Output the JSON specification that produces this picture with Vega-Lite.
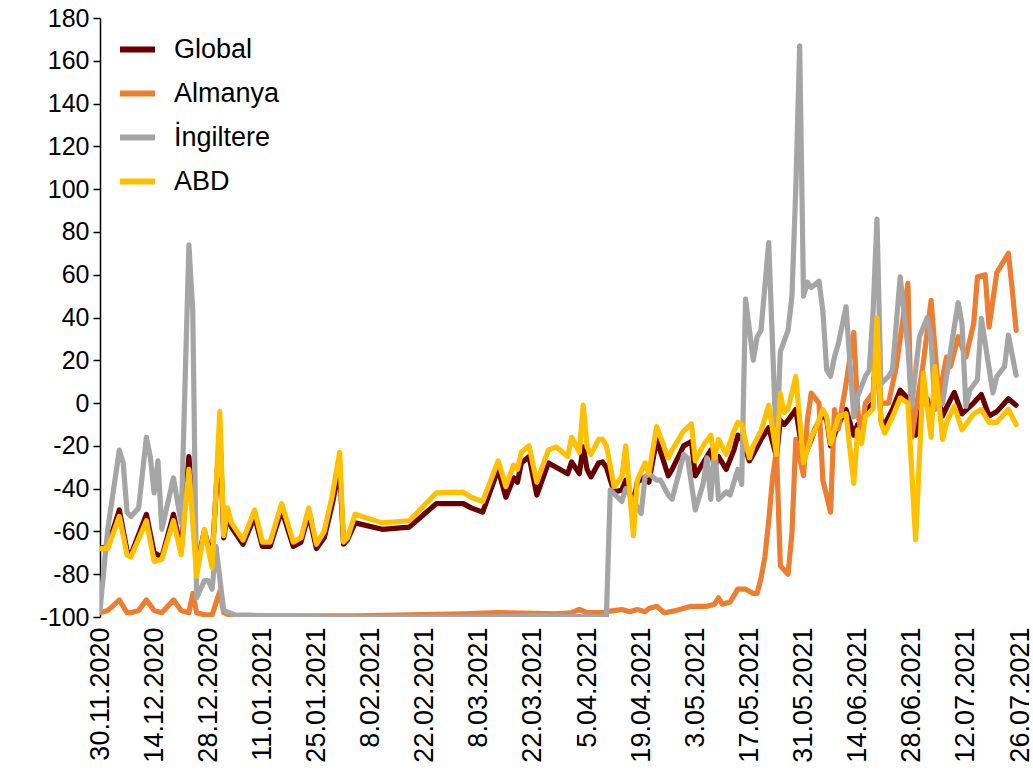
{
"$schema": "https://vega.github.io/schema/vega-lite/v6.json",
"width": 920, "height": 599,
"autosize": {"type": "none"},
"padding": {"left": 100, "top": 18, "right": 13, "bottom": 162},
"background": "white",
"config": {"view": {"stroke": null}, "font": "Liberation Sans"},
"datasets": {
"series": [
{"s":"Global","d":"2020-11-30","v":-68},{"s":"Global","d":"2020-12-02","v":-67},{"s":"Global","d":"2020-12-05","v":-50},{"s":"Global","d":"2020-12-07","v":-69},{"s":"Global","d":"2020-12-08","v":-71},{"s":"Global","d":"2020-12-12","v":-52},{"s":"Global","d":"2020-12-14","v":-70},{"s":"Global","d":"2020-12-16","v":-72},{"s":"Global","d":"2020-12-19","v":-52},{"s":"Global","d":"2020-12-21","v":-69},{"s":"Global","d":"2020-12-23","v":-25},{"s":"Global","d":"2020-12-25","v":-76},{"s":"Global","d":"2020-12-27","v":-60},{"s":"Global","d":"2020-12-29","v":-73},{"s":"Global","d":"2020-12-31","v":-12},{"s":"Global","d":"2021-01-01","v":-63},{"s":"Global","d":"2021-01-02","v":-52},{"s":"Global","d":"2021-01-03","v":-58},{"s":"Global","d":"2021-01-06","v":-66},{"s":"Global","d":"2021-01-09","v":-53},{"s":"Global","d":"2021-01-11","v":-67},{"s":"Global","d":"2021-01-13","v":-67},{"s":"Global","d":"2021-01-16","v":-50},{"s":"Global","d":"2021-01-19","v":-67},{"s":"Global","d":"2021-01-21","v":-65},{"s":"Global","d":"2021-01-23","v":-52},{"s":"Global","d":"2021-01-25","v":-68},{"s":"Global","d":"2021-01-27","v":-63},{"s":"Global","d":"2021-01-29","v":-48},{"s":"Global","d":"2021-01-31","v":-30},{"s":"Global","d":"2021-02-01","v":-66},{"s":"Global","d":"2021-02-02","v":-64},{"s":"Global","d":"2021-02-04","v":-56},{"s":"Global","d":"2021-02-11","v":-59},{"s":"Global","d":"2021-02-18","v":-58},{"s":"Global","d":"2021-02-25","v":-47},{"s":"Global","d":"2021-03-04","v":-47},{"s":"Global","d":"2021-03-06","v":-49},{"s":"Global","d":"2021-03-09","v":-51},{"s":"Global","d":"2021-03-13","v":-31},{"s":"Global","d":"2021-03-15","v":-44},{"s":"Global","d":"2021-03-17","v":-35},{"s":"Global","d":"2021-03-18","v":-37},{"s":"Global","d":"2021-03-19","v":-28},{"s":"Global","d":"2021-03-21","v":-25},{"s":"Global","d":"2021-03-23","v":-43},{"s":"Global","d":"2021-03-26","v":-28},{"s":"Global","d":"2021-03-28","v":-30},{"s":"Global","d":"2021-03-31","v":-33},{"s":"Global","d":"2021-04-01","v":-27.5},{"s":"Global","d":"2021-04-03","v":-33},{"s":"Global","d":"2021-04-04","v":-20.5},{"s":"Global","d":"2021-04-05","v":-31},{"s":"Global","d":"2021-04-06","v":-34.5},{"s":"Global","d":"2021-04-08","v":-28},{"s":"Global","d":"2021-04-09","v":-27.5},{"s":"Global","d":"2021-04-10","v":-30},{"s":"Global","d":"2021-04-12","v":-41.6},{"s":"Global","d":"2021-04-14","v":-40.6},{"s":"Global","d":"2021-04-15","v":-36},{"s":"Global","d":"2021-04-17","v":-47},{"s":"Global","d":"2021-04-18","v":-37},{"s":"Global","d":"2021-04-20","v":-34.5},{"s":"Global","d":"2021-04-21","v":-37},{"s":"Global","d":"2021-04-23","v":-17},{"s":"Global","d":"2021-04-26","v":-34},{"s":"Global","d":"2021-04-27","v":-31},{"s":"Global","d":"2021-04-30","v":-20},{"s":"Global","d":"2021-05-02","v":-18},{"s":"Global","d":"2021-05-03","v":-34},{"s":"Global","d":"2021-05-05","v":-28},{"s":"Global","d":"2021-05-07","v":-22},{"s":"Global","d":"2021-05-08","v":-30},{"s":"Global","d":"2021-05-09","v":-25},{"s":"Global","d":"2021-05-11","v":-31},{"s":"Global","d":"2021-05-13","v":-22},{"s":"Global","d":"2021-05-14","v":-15},{"s":"Global","d":"2021-05-15","v":-17},{"s":"Global","d":"2021-05-17","v":-27},{"s":"Global","d":"2021-05-18","v":-24},{"s":"Global","d":"2021-05-20","v":-17},{"s":"Global","d":"2021-05-22","v":-11.5},{"s":"Global","d":"2021-05-24","v":-25},{"s":"Global","d":"2021-05-25","v":-8},{"s":"Global","d":"2021-05-26","v":-10},{"s":"Global","d":"2021-05-27","v":-8},{"s":"Global","d":"2021-05-29","v":-3},{"s":"Global","d":"2021-05-31","v":-26},{"s":"Global","d":"2021-06-02","v":-17},{"s":"Global","d":"2021-06-03","v":-12},{"s":"Global","d":"2021-06-05","v":-5},{"s":"Global","d":"2021-06-06","v":-8},{"s":"Global","d":"2021-06-07","v":-20},{"s":"Global","d":"2021-06-09","v":-10},{"s":"Global","d":"2021-06-11","v":-3},{"s":"Global","d":"2021-06-13","v":-15},{"s":"Global","d":"2021-06-14","v":-10},{"s":"Global","d":"2021-06-15","v":-12},{"s":"Global","d":"2021-06-16","v":-4},{"s":"Global","d":"2021-06-18","v":0},{"s":"Global","d":"2021-06-19","v":37},{"s":"Global","d":"2021-06-20","v":-8},{"s":"Global","d":"2021-06-21","v":-10},{"s":"Global","d":"2021-06-23","v":-3},{"s":"Global","d":"2021-06-25","v":6},{"s":"Global","d":"2021-06-27","v":2},{"s":"Global","d":"2021-06-29","v":-15},{"s":"Global","d":"2021-07-01","v":3},{"s":"Global","d":"2021-07-02","v":2},{"s":"Global","d":"2021-07-03","v":-8},{"s":"Global","d":"2021-07-04","v":8},{"s":"Global","d":"2021-07-06","v":-6},{"s":"Global","d":"2021-07-07","v":-2},{"s":"Global","d":"2021-07-09","v":5},{"s":"Global","d":"2021-07-11","v":-5},{"s":"Global","d":"2021-07-14","v":0},{"s":"Global","d":"2021-07-16","v":4},{"s":"Global","d":"2021-07-18","v":-6},{"s":"Global","d":"2021-07-20","v":-4},{"s":"Global","d":"2021-07-22","v":0},{"s":"Global","d":"2021-07-23","v":2},{"s":"Global","d":"2021-07-25","v":-1},

{"s":"Almanya","d":"2020-11-30","v":-98},{"s":"Almanya","d":"2020-12-02","v":-97},{"s":"Almanya","d":"2020-12-05","v":-92},{"s":"Almanya","d":"2020-12-07","v":-98},{"s":"Almanya","d":"2020-12-08","v":-98},{"s":"Almanya","d":"2020-12-10","v":-97},{"s":"Almanya","d":"2020-12-12","v":-92},{"s":"Almanya","d":"2020-12-14","v":-97},{"s":"Almanya","d":"2020-12-16","v":-98},{"s":"Almanya","d":"2020-12-19","v":-92},{"s":"Almanya","d":"2020-12-21","v":-97},{"s":"Almanya","d":"2020-12-23","v":-98},{"s":"Almanya","d":"2020-12-24","v":-89},{"s":"Almanya","d":"2020-12-25","v":-98},{"s":"Almanya","d":"2020-12-27","v":-99},{"s":"Almanya","d":"2020-12-29","v":-99},{"s":"Almanya","d":"2020-12-31","v":-88},{"s":"Almanya","d":"2021-01-01","v":-98},{"s":"Almanya","d":"2021-01-03","v":-99.5},{"s":"Almanya","d":"2021-01-19","v":-99.5},{"s":"Almanya","d":"2021-02-04","v":-99.5},{"s":"Almanya","d":"2021-02-18","v":-99},{"s":"Almanya","d":"2021-03-04","v":-98.5},{"s":"Almanya","d":"2021-03-13","v":-98},{"s":"Almanya","d":"2021-03-23","v":-98.3},{"s":"Almanya","d":"2021-03-28","v":-98.5},{"s":"Almanya","d":"2021-04-01","v":-98},{"s":"Almanya","d":"2021-04-03","v":-96.5},{"s":"Almanya","d":"2021-04-05","v":-98},{"s":"Almanya","d":"2021-04-09","v":-98},{"s":"Almanya","d":"2021-04-10","v":-97.5},{"s":"Almanya","d":"2021-04-12","v":-97},{"s":"Almanya","d":"2021-04-14","v":-96.5},{"s":"Almanya","d":"2021-04-16","v":-97.5},{"s":"Almanya","d":"2021-04-18","v":-96.5},{"s":"Almanya","d":"2021-04-20","v":-97.5},{"s":"Almanya","d":"2021-04-21","v":-96},{"s":"Almanya","d":"2021-04-23","v":-95},{"s":"Almanya","d":"2021-04-25","v":-98},{"s":"Almanya","d":"2021-04-28","v":-97},{"s":"Almanya","d":"2021-05-02","v":-95},{"s":"Almanya","d":"2021-05-06","v":-95},{"s":"Almanya","d":"2021-05-08","v":-94},{"s":"Almanya","d":"2021-05-09","v":-91},{"s":"Almanya","d":"2021-05-10","v":-94},{"s":"Almanya","d":"2021-05-12","v":-93},{"s":"Almanya","d":"2021-05-14","v":-87},{"s":"Almanya","d":"2021-05-16","v":-87},{"s":"Almanya","d":"2021-05-18","v":-89},{"s":"Almanya","d":"2021-05-19","v":-89},{"s":"Almanya","d":"2021-05-20","v":-82},{"s":"Almanya","d":"2021-05-21","v":-72},{"s":"Almanya","d":"2021-05-22","v":-55},{"s":"Almanya","d":"2021-05-23","v":-35},{"s":"Almanya","d":"2021-05-24","v":-22},{"s":"Almanya","d":"2021-05-25","v":-76},{"s":"Almanya","d":"2021-05-26","v":-78},{"s":"Almanya","d":"2021-05-27","v":-80},{"s":"Almanya","d":"2021-05-28","v":-61},{"s":"Almanya","d":"2021-05-29","v":-17},{"s":"Almanya","d":"2021-05-31","v":-34},{"s":"Almanya","d":"2021-06-01","v":-8},{"s":"Almanya","d":"2021-06-02","v":4.7},{"s":"Almanya","d":"2021-06-04","v":0},{"s":"Almanya","d":"2021-06-05","v":-36},{"s":"Almanya","d":"2021-06-07","v":-51},{"s":"Almanya","d":"2021-06-08","v":-3},{"s":"Almanya","d":"2021-06-09","v":-12},{"s":"Almanya","d":"2021-06-11","v":9},{"s":"Almanya","d":"2021-06-13","v":33},{"s":"Almanya","d":"2021-06-14","v":-3},{"s":"Almanya","d":"2021-06-15","v":-16},{"s":"Almanya","d":"2021-06-16","v":0},{"s":"Almanya","d":"2021-06-18","v":4.7},{"s":"Almanya","d":"2021-06-19","v":37},{"s":"Almanya","d":"2021-06-20","v":0},{"s":"Almanya","d":"2021-06-22","v":0},{"s":"Almanya","d":"2021-06-24","v":17},{"s":"Almanya","d":"2021-06-27","v":56},{"s":"Almanya","d":"2021-06-28","v":-16},{"s":"Almanya","d":"2021-07-01","v":19},{"s":"Almanya","d":"2021-07-03","v":48},{"s":"Almanya","d":"2021-07-05","v":3},{"s":"Almanya","d":"2021-07-07","v":21.5},{"s":"Almanya","d":"2021-07-08","v":17},{"s":"Almanya","d":"2021-07-10","v":31},{"s":"Almanya","d":"2021-07-12","v":21.5},{"s":"Almanya","d":"2021-07-14","v":37},{"s":"Almanya","d":"2021-07-15","v":59},{"s":"Almanya","d":"2021-07-17","v":60},{"s":"Almanya","d":"2021-07-18","v":35.5},{"s":"Almanya","d":"2021-07-20","v":61},{"s":"Almanya","d":"2021-07-23","v":70},{"s":"Almanya","d":"2021-07-24","v":53},{"s":"Almanya","d":"2021-07-25","v":34},

{"s":"İngiltere","d":"2020-11-30","v":-97},{"s":"İngiltere","d":"2020-12-02","v":-59},{"s":"İngiltere","d":"2020-12-05","v":-22},{"s":"İngiltere","d":"2020-12-06","v":-28},{"s":"İngiltere","d":"2020-12-07","v":-51},{"s":"İngiltere","d":"2020-12-08","v":-53},{"s":"İngiltere","d":"2020-12-10","v":-49},{"s":"İngiltere","d":"2020-12-12","v":-16},{"s":"İngiltere","d":"2020-12-13","v":-25},{"s":"İngiltere","d":"2020-12-14","v":-42},{"s":"İngiltere","d":"2020-12-15","v":-27},{"s":"İngiltere","d":"2020-12-16","v":-59},{"s":"İngiltere","d":"2020-12-19","v":-35},{"s":"İngiltere","d":"2020-12-21","v":-56},{"s":"İngiltere","d":"2020-12-23","v":74},{"s":"İngiltere","d":"2020-12-24","v":43},{"s":"İngiltere","d":"2020-12-25","v":-91},{"s":"İngiltere","d":"2020-12-27","v":-83},{"s":"İngiltere","d":"2020-12-28","v":-83},{"s":"İngiltere","d":"2020-12-29","v":-87},{"s":"İngiltere","d":"2020-12-30","v":-67},{"s":"İngiltere","d":"2021-01-01","v":-97},{"s":"İngiltere","d":"2021-01-04","v":-99},{"s":"İngiltere","d":"2021-01-14","v":-99.5},{"s":"İngiltere","d":"2021-01-29","v":-100},{"s":"İngiltere","d":"2021-03-10","v":-100},{"s":"İngiltere","d":"2021-03-22","v":-99.5},{"s":"İngiltere","d":"2021-04-10","v":-100},{"s":"İngiltere","d":"2021-04-11","v":-40.6},{"s":"İngiltere","d":"2021-04-14","v":-46},{"s":"İngiltere","d":"2021-04-15","v":-40},{"s":"İngiltere","d":"2021-04-19","v":-51.6},{"s":"İngiltere","d":"2021-04-20","v":-34.5},{"s":"İngiltere","d":"2021-04-21","v":-33},{"s":"İngiltere","d":"2021-04-23","v":-36},{"s":"İngiltere","d":"2021-04-24","v":-36},{"s":"İngiltere","d":"2021-04-26","v":-43},{"s":"İngiltere","d":"2021-04-27","v":-45},{"s":"İngiltere","d":"2021-04-30","v":-24},{"s":"İngiltere","d":"2021-05-01","v":-25.6},{"s":"İngiltere","d":"2021-05-03","v":-50},{"s":"İngiltere","d":"2021-05-05","v":-38},{"s":"İngiltere","d":"2021-05-06","v":-25.6},{"s":"İngiltere","d":"2021-05-07","v":-45},{"s":"İngiltere","d":"2021-05-08","v":-20},{"s":"İngiltere","d":"2021-05-09","v":-45},{"s":"İngiltere","d":"2021-05-11","v":-41.5},{"s":"İngiltere","d":"2021-05-12","v":-43},{"s":"İngiltere","d":"2021-05-14","v":-31},{"s":"İngiltere","d":"2021-05-15","v":-38},{"s":"İngiltere","d":"2021-05-16","v":48.6},{"s":"İngiltere","d":"2021-05-18","v":20},{"s":"İngiltere","d":"2021-05-19","v":31},{"s":"İngiltere","d":"2021-05-20","v":34},{"s":"İngiltere","d":"2021-05-22","v":75},{"s":"İngiltere","d":"2021-05-24","v":-22},{"s":"İngiltere","d":"2021-05-25","v":24},{"s":"İngiltere","d":"2021-05-27","v":34},{"s":"İngiltere","d":"2021-05-28","v":50},{"s":"İngiltere","d":"2021-05-29","v":100},{"s":"İngiltere","d":"2021-05-30","v":167},{"s":"İngiltere","d":"2021-05-31","v":50},{"s":"İngiltere","d":"2021-06-01","v":56.5},{"s":"İngiltere","d":"2021-06-02","v":54},{"s":"İngiltere","d":"2021-06-04","v":57},{"s":"İngiltere","d":"2021-06-05","v":43},{"s":"İngiltere","d":"2021-06-06","v":15.4},{"s":"İngiltere","d":"2021-06-07","v":12.5},{"s":"İngiltere","d":"2021-06-08","v":21.5},{"s":"İngiltere","d":"2021-06-09","v":27.7},{"s":"İngiltere","d":"2021-06-11","v":45},{"s":"İngiltere","d":"2021-06-13","v":-6.5},{"s":"İngiltere","d":"2021-06-14","v":3},{"s":"İngiltere","d":"2021-06-16","v":12.5},{"s":"İngiltere","d":"2021-06-17","v":15.4},{"s":"İngiltere","d":"2021-06-18","v":43},{"s":"İngiltere","d":"2021-06-19","v":86},{"s":"İngiltere","d":"2021-06-20","v":9},{"s":"İngiltere","d":"2021-06-22","v":12.5},{"s":"İngiltere","d":"2021-06-23","v":15.4},{"s":"İngiltere","d":"2021-06-25","v":59},{"s":"İngiltere","d":"2021-06-27","v":26},{"s":"İngiltere","d":"2021-06-28","v":-1.5},{"s":"İngiltere","d":"2021-06-29","v":15.4},{"s":"İngiltere","d":"2021-06-30","v":31},{"s":"İngiltere","d":"2021-07-02","v":40},{"s":"İngiltere","d":"2021-07-03","v":30},{"s":"İngiltere","d":"2021-07-04","v":-3},{"s":"İngiltere","d":"2021-07-06","v":0},{"s":"İngiltere","d":"2021-07-07","v":12.5},{"s":"İngiltere","d":"2021-07-10","v":47},{"s":"İngiltere","d":"2021-07-11","v":37},{"s":"İngiltere","d":"2021-07-12","v":-1.5},{"s":"İngiltere","d":"2021-07-13","v":6},{"s":"İngiltere","d":"2021-07-15","v":11},{"s":"İngiltere","d":"2021-07-16","v":39.6},{"s":"İngiltere","d":"2021-07-19","v":4.7},{"s":"İngiltere","d":"2021-07-20","v":12.5},{"s":"İngiltere","d":"2021-07-22","v":17},{"s":"İngiltere","d":"2021-07-23","v":31.8},{"s":"İngiltere","d":"2021-07-25","v":13},

{"s":"ABD","d":"2020-11-30","v":-68},{"s":"ABD","d":"2020-12-02","v":-68},{"s":"ABD","d":"2020-12-05","v":-53},{"s":"ABD","d":"2020-12-07","v":-71},{"s":"ABD","d":"2020-12-08","v":-72},{"s":"ABD","d":"2020-12-12","v":-55},{"s":"ABD","d":"2020-12-14","v":-74},{"s":"ABD","d":"2020-12-16","v":-73},{"s":"ABD","d":"2020-12-19","v":-55},{"s":"ABD","d":"2020-12-21","v":-71},{"s":"ABD","d":"2020-12-23","v":-31},{"s":"ABD","d":"2020-12-25","v":-81},{"s":"ABD","d":"2020-12-27","v":-59},{"s":"ABD","d":"2020-12-29","v":-77},{"s":"ABD","d":"2020-12-31","v":-4},{"s":"ABD","d":"2021-01-01","v":-62},{"s":"ABD","d":"2021-01-02","v":-49},{"s":"ABD","d":"2021-01-03","v":-56},{"s":"ABD","d":"2021-01-06","v":-64},{"s":"ABD","d":"2021-01-09","v":-50},{"s":"ABD","d":"2021-01-11","v":-65},{"s":"ABD","d":"2021-01-13","v":-65},{"s":"ABD","d":"2021-01-16","v":-47},{"s":"ABD","d":"2021-01-19","v":-65},{"s":"ABD","d":"2021-01-21","v":-63},{"s":"ABD","d":"2021-01-23","v":-49},{"s":"ABD","d":"2021-01-25","v":-66},{"s":"ABD","d":"2021-01-27","v":-60},{"s":"ABD","d":"2021-01-29","v":-44},{"s":"ABD","d":"2021-01-31","v":-23},{"s":"ABD","d":"2021-02-01","v":-65},{"s":"ABD","d":"2021-02-02","v":-63},{"s":"ABD","d":"2021-02-04","v":-52},{"s":"ABD","d":"2021-02-11","v":-56},{"s":"ABD","d":"2021-02-18","v":-55},{"s":"ABD","d":"2021-02-25","v":-42},{"s":"ABD","d":"2021-03-04","v":-41.6},{"s":"ABD","d":"2021-03-06","v":-44},{"s":"ABD","d":"2021-03-09","v":-46},{"s":"ABD","d":"2021-03-13","v":-27},{"s":"ABD","d":"2021-03-15","v":-39},{"s":"ABD","d":"2021-03-17","v":-29},{"s":"ABD","d":"2021-03-18","v":-31},{"s":"ABD","d":"2021-03-19","v":-23},{"s":"ABD","d":"2021-03-21","v":-20},{"s":"ABD","d":"2021-03-23","v":-37},{"s":"ABD","d":"2021-03-26","v":-22},{"s":"ABD","d":"2021-03-28","v":-20.5},{"s":"ABD","d":"2021-03-31","v":-25},{"s":"ABD","d":"2021-04-01","v":-16},{"s":"ABD","d":"2021-04-03","v":-23},{"s":"ABD","d":"2021-04-04","v":-1},{"s":"ABD","d":"2021-04-05","v":-20.5},{"s":"ABD","d":"2021-04-06","v":-24},{"s":"ABD","d":"2021-04-08","v":-17},{"s":"ABD","d":"2021-04-09","v":-17},{"s":"ABD","d":"2021-04-10","v":-20},{"s":"ABD","d":"2021-04-12","v":-39},{"s":"ABD","d":"2021-04-14","v":-34.5},{"s":"ABD","d":"2021-04-15","v":-20},{"s":"ABD","d":"2021-04-17","v":-62},{"s":"ABD","d":"2021-04-18","v":-36},{"s":"ABD","d":"2021-04-20","v":-28},{"s":"ABD","d":"2021-04-21","v":-33},{"s":"ABD","d":"2021-04-23","v":-11},{"s":"ABD","d":"2021-04-26","v":-25.6},{"s":"ABD","d":"2021-04-27","v":-22},{"s":"ABD","d":"2021-04-30","v":-13},{"s":"ABD","d":"2021-05-02","v":-9.7},{"s":"ABD","d":"2021-05-03","v":-27},{"s":"ABD","d":"2021-05-05","v":-20},{"s":"ABD","d":"2021-05-07","v":-15},{"s":"ABD","d":"2021-05-08","v":-25.6},{"s":"ABD","d":"2021-05-09","v":-17},{"s":"ABD","d":"2021-05-11","v":-24},{"s":"ABD","d":"2021-05-13","v":-13},{"s":"ABD","d":"2021-05-14","v":-9},{"s":"ABD","d":"2021-05-15","v":-10},{"s":"ABD","d":"2021-05-17","v":-25.6},{"s":"ABD","d":"2021-05-18","v":-20},{"s":"ABD","d":"2021-05-20","v":-13},{"s":"ABD","d":"2021-05-22","v":-1},{"s":"ABD","d":"2021-05-24","v":-24},{"s":"ABD","d":"2021-05-25","v":4.4},{"s":"ABD","d":"2021-05-26","v":-4.4},{"s":"ABD","d":"2021-05-27","v":-2.7},{"s":"ABD","d":"2021-05-29","v":12.4},{"s":"ABD","d":"2021-05-31","v":-28},{"s":"ABD","d":"2021-06-02","v":-16},{"s":"ABD","d":"2021-06-03","v":-12.5},{"s":"ABD","d":"2021-06-05","v":-3},{"s":"ABD","d":"2021-06-06","v":-6.5},{"s":"ABD","d":"2021-06-07","v":-19},{"s":"ABD","d":"2021-06-09","v":-6.5},{"s":"ABD","d":"2021-06-11","v":-5},{"s":"ABD","d":"2021-06-13","v":-37.5},{"s":"ABD","d":"2021-06-14","v":-12.5},{"s":"ABD","d":"2021-06-15","v":-19},{"s":"ABD","d":"2021-06-16","v":-6.5},{"s":"ABD","d":"2021-06-18","v":-2.5},{"s":"ABD","d":"2021-06-19","v":40},{"s":"ABD","d":"2021-06-20","v":-9},{"s":"ABD","d":"2021-06-21","v":-14},{"s":"ABD","d":"2021-06-23","v":-6.5},{"s":"ABD","d":"2021-06-25","v":2.3},{"s":"ABD","d":"2021-06-27","v":0},{"s":"ABD","d":"2021-06-29","v":-64},{"s":"ABD","d":"2021-07-01","v":14},{"s":"ABD","d":"2021-07-02","v":-1.5},{"s":"ABD","d":"2021-07-03","v":-16},{"s":"ABD","d":"2021-07-04","v":17},{"s":"ABD","d":"2021-07-06","v":-17},{"s":"ABD","d":"2021-07-07","v":-9},{"s":"ABD","d":"2021-07-09","v":-1.5},{"s":"ABD","d":"2021-07-11","v":-12.5},{"s":"ABD","d":"2021-07-14","v":-5},{"s":"ABD","d":"2021-07-16","v":-3},{"s":"ABD","d":"2021-07-18","v":-9},{"s":"ABD","d":"2021-07-20","v":-9},{"s":"ABD","d":"2021-07-22","v":-5},{"s":"ABD","d":"2021-07-23","v":-3},{"s":"ABD","d":"2021-07-25","v":-10}
]
},
"layer": [
{
"mark": {"type": "rule", "color": "black", "strokeWidth": 1.5},
"encoding": {"y": {"datum": 0, "type": "quantitative", "scale": {"domain": [-100, 180], "nice": false}}}
},
{
"data": {"name": "series", "format": {"parse": {"d": "date:'%Y-%m-%d'"}}},
"mark": {"type": "line", "strokeWidth": 5.2, "strokeJoin": "round", "strokeCap": "round", "clip": true},
"encoding": {
"x": {"field": "d", "type": "temporal",
"scale": {"domain": [{"year": 2020, "month": 11, "date": 30}, {"year": 2021, "month": 7, "date": 26}], "nice": false},
"axis": {"title": null, "domain": false, "ticks": false, "grid": false, "labelAngle": -90, "labelFont": "Liberation Sans", "labelFontSize": 27, "labelColor": "black", "labelPadding": 10, "labelOverlap": false, "labelBound": false, "labelFlush": false, "format": "%-d.%m.%Y",
"values": [{"year":2020,"month":11,"date":30},{"year":2020,"month":12,"date":14},{"year":2020,"month":12,"date":28},{"year":2021,"month":1,"date":11},{"year":2021,"month":1,"date":25},{"year":2021,"month":2,"date":8},{"year":2021,"month":2,"date":22},{"year":2021,"month":3,"date":8},{"year":2021,"month":3,"date":22},{"year":2021,"month":4,"date":5},{"year":2021,"month":4,"date":19},{"year":2021,"month":5,"date":3},{"year":2021,"month":5,"date":17},{"year":2021,"month":5,"date":31},{"year":2021,"month":6,"date":14},{"year":2021,"month":6,"date":28},{"year":2021,"month":7,"date":12},{"year":2021,"month":7,"date":26}]}},
"y": {"field": "v", "type": "quantitative",
"scale": {"domain": [-100, 180], "nice": false},
"axis": {"title": null, "grid": false, "values": [-100,-80,-60,-40,-20,0,20,40,60,80,100,120,140,160,180], "labelExpr": "'' + datum.value", "labelFont": "Liberation Sans", "labelFontSize": 25, "labelColor": "black", "domainColor": "black", "domainWidth": 1.5, "tickColor": "black", "tickWidth": 1.5, "tickSize": 7, "labelPadding": 4}},
"color": {"field": "s", "type": "nominal",
"scale": {"domain": ["Global", "Almanya", "İngiltere", "ABD"], "range": ["#680000", "#ED7D31", "#A5A5A5", "#FFC000"]},
"legend": {"title": null, "orient": "none", "legendX": 17, "legendY": 11, "padding": 0, "symbolType": "stroke", "symbolSize": 1225, "symbolStrokeWidth": 6, "labelFont": "Liberation Sans", "labelFontSize": 27, "labelColor": "black", "labelOffset": 16, "rowPadding": 10, "labelLimit": 300}}
}
}
]
}
